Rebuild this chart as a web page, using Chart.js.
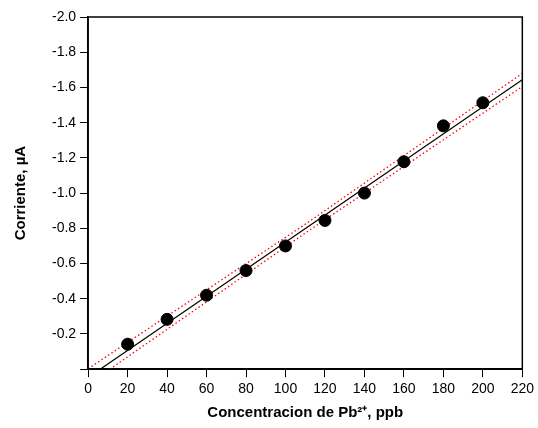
<!DOCTYPE html>
<html>
<head>
<meta charset="utf-8">
<script src="https://cdn.jsdelivr.net/npm/chart.js@4/dist/chart.umd.min.js"></script>
<style>
  html, body { margin: 0; padding: 0; background: #fff; }
  #wrap { width: 538px; height: 428px; }
</style>
</head>
<body>
<div id="wrap"><canvas id="curva"></canvas></div>
<script>
// concentracion (ppb) y corriente (uA)
let conc = [20, 40, 60, 80, 100, 120, 140, 160, 180, 200];
let corriente = [-0.142, -0.283, -0.42, -0.56, -0.70, -0.845, -1.00, -1.178, -1.382, -1.513];

// recta de calibracion y bandas de confianza
let rectaX = [6.1, 220];
let rectaY = [0, -1.643];
let bandaSupX = [0, 110, 220];
let bandaSupY = [-0.003, -0.823, -1.68];
let bandaInfX = [11, 110, 220];
let bandaInfY = [0, -0.773, -1.605];

let xTicks = [0, 20, 40, 60, 80, 100, 120, 140, 160, 180, 200, 220];

let pares = function(xs, ys) {
  let out = [];
  for (let i = 0; i < xs.length; i++) {
    out.push({x: xs[i], y: ys[i]});
  }
  return out;
};

// marco completo alrededor del area de la grafica
let marco = {
  id: 'marco',
  afterDraw(chart) {
    let a = chart.chartArea;
    let ctx = chart.ctx;
    ctx.save();
    ctx.strokeStyle = '#000';
    ctx.lineWidth = 1.5;
    ctx.strokeRect(a.left, a.top, a.right - a.left, a.bottom - a.top);
    ctx.restore();
  }
};

Chart.defaults.font.family = 'Arial, "Liberation Sans", sans-serif';
Chart.defaults.color = '#000';

new Chart(document.getElementById('curva'), {
  type: 'scatter',
  data: {
    datasets: [
      {
        data: pares(conc, corriente),
        backgroundColor: '#000',
        borderColor: '#000',
        pointRadius: 6,
        pointHoverRadius: 6
      },
      {
        type: 'line',
        data: pares(rectaX, rectaY),
        borderColor: '#000',
        borderWidth: 1.2,
        pointRadius: 0,
        fill: false
      },
      {
        type: 'line',
        data: pares(bandaSupX, bandaSupY),
        borderColor: '#f00',
        borderWidth: 1.3,
        borderDash: [1.5, 2.5],
        pointRadius: 0,
        fill: false
      },
      {
        type: 'line',
        data: pares(bandaInfX, bandaInfY),
        borderColor: '#f00',
        borderWidth: 1.3,
        borderDash: [1.5, 2.5],
        pointRadius: 0,
        fill: false
      }
    ]
  },
  options: {
    responsive: true,
    maintainAspectRatio: false,
    animation: false,
    layout: { padding: { top: 17, right: 14, left: 12, bottom: 6 } },
    plugins: {
      legend: { display: false },
      tooltip: { enabled: false }
    },
    scales: {
      x: {
        type: 'linear',
        min: 0,
        max: 220,
        afterBuildTicks: function(axis) {
          axis.ticks = xTicks.map(v => ({value: v}));
        },
        grid: { drawOnChartArea: false, drawTicks: true, tickLength: 8, color: '#000', lineWidth: 1 },
        border: { display: true, color: '#000', width: 1.5 },
        ticks: { font: { size: 14 }, padding: 4, maxRotation: 0 },
        title: {
          display: true,
          text: 'Concentracion de Pb²⁺, ppb',
          font: { size: 15, weight: 'bold' },
          padding: { top: 2, bottom: 0 }
        }
      },
      y: {
        type: 'linear',
        reverse: true,
        min: -2.0,
        max: 0,
        ticks: {
          stepSize: 0.2,
          font: { size: 14 },
          padding: 4,
          callback: function(v) {
            if (Math.abs(v) < 1e-9) { return ''; }
            return v.toFixed(1);
          }
        },
        grid: { drawOnChartArea: false, drawTicks: true, tickLength: 8, color: '#000', lineWidth: 1 },
        border: { display: true, color: '#000', width: 1.5 },
        title: {
          display: true,
          text: 'Corriente, µA',
          font: { size: 15, weight: 'bold' },
          padding: { top: 0, bottom: 18 }
        }
      }
    }
  },
  plugins: [marco]
});
</script>
</body>
</html>
